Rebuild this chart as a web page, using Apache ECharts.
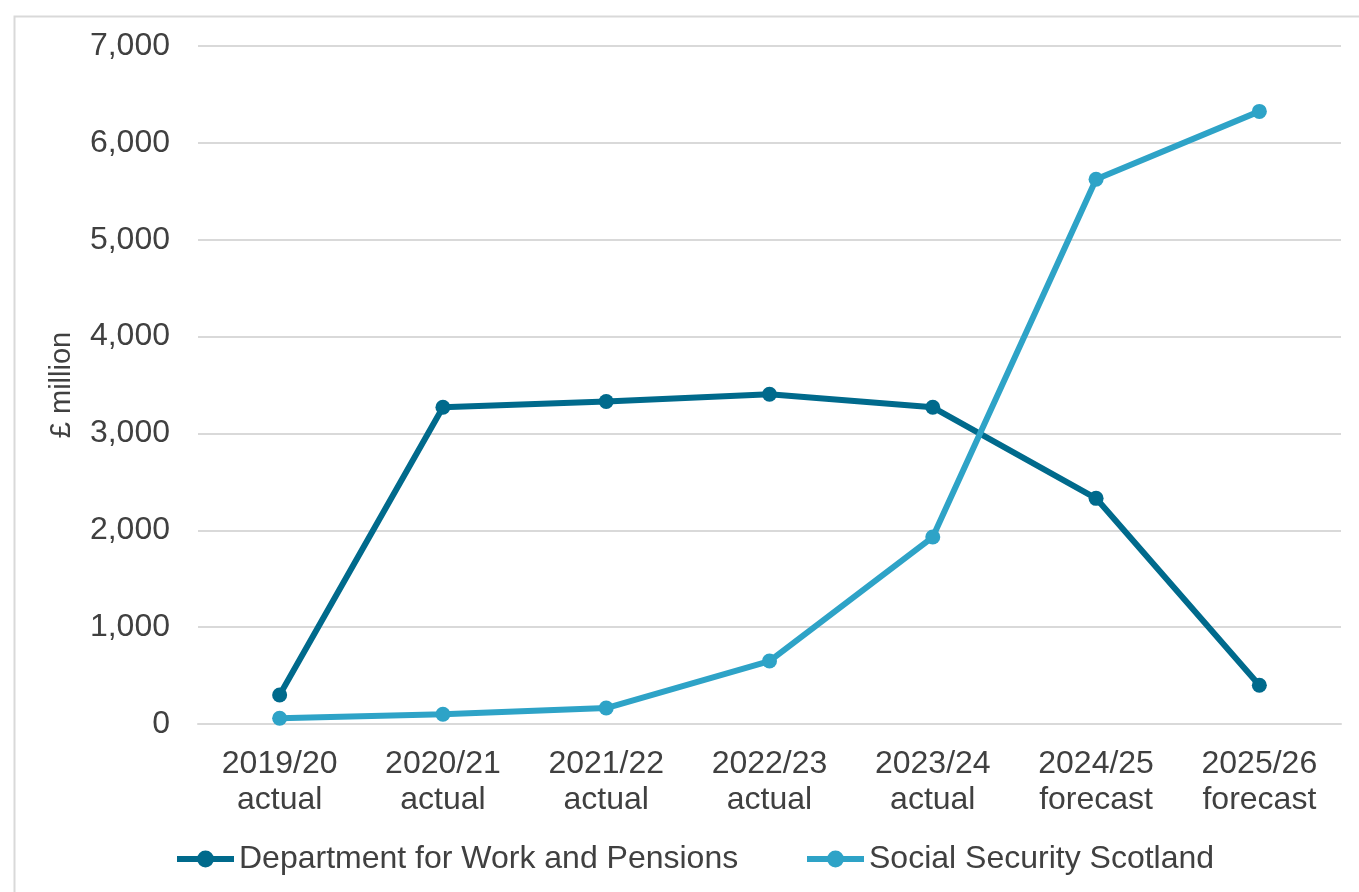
<!DOCTYPE html>
<html>
<head>
<meta charset="utf-8">
<script src="https://cdn.jsdelivr.net/npm/echarts@6/dist/echarts.min.js"></script>
<style>
html,body{margin:0;padding:0;background:#fff;}
#main{width:1359px;height:892px;}
</style>
</head>
<body>
<div id="main"></div>
<script>
const categories = ['2019/20\nactual','2020/21\nactual','2021/22\nactual','2022/23\nactual','2023/24\nactual','2024/25\nforecast','2025/26\nforecast'];
const dwp = [300, 3270, 3330, 3405, 3270, 2330, 400];
const sss = [60, 100, 165, 650, 1930, 5625, 6325];
const seriesNames = ['Department for Work and Pensions', 'Social Security Scotland'];
const yAxisName = '£ million';

const font = 'Liberation Sans, Arial, sans-serif';
const dark = '#006a8c';
const light = '#2ea3c7';
const legendText = {fontFamily: font, fontSize: 32, color: '#404040'};
const chart = echarts.init(document.getElementById('main'));
chart.setOption({
  animation: false,
  backgroundColor: '#fff',
  graphic: [{
    type: 'rect', left: 12, top: 14,
    shape: {width: 1400, height: 900},
    style: {fill: 'none', stroke: '#d9d9d9', lineWidth: 2}
  }],
  grid: {left: 198, right: 18, top: 46, bottom: 168},
  legend: [{
    left: 169, top: 838,
    itemWidth: 57, itemHeight: 21, itemGap: 5,
    lineStyle: {width: 6},
    textStyle: legendText,
    data: [seriesNames[0]]
  }, {
    left: 799, top: 838,
    itemWidth: 57, itemHeight: 21, itemGap: 5,
    lineStyle: {width: 6},
    textStyle: legendText,
    data: [seriesNames[1]]
  }],
  xAxis: {
    type: 'category',
    data: categories,
    boundaryGap: true,
    axisLine: {show: true, lineStyle: {color: '#d9d9d9', width: 2}},
    axisTick: {show: false},
    axisLabel: {fontFamily: font, fontSize: 32, color: '#404040', lineHeight: 36, margin: 22}
  },
  yAxis: {
    type: 'value',
    min: 0, max: 7000, interval: 1000,
    name: yAxisName,
    nameLocation: 'middle',
    nameGap: 122,
    nameTextStyle: {fontFamily: font, fontSize: 29, color: '#404040'},
    axisLine: {show: false},
    axisTick: {show: false},
    splitLine: {lineStyle: {color: '#d9d9d9', width: 2}},
    axisLabel: {
      fontFamily: font, fontSize: 32, color: '#404040', margin: 28,
      formatter: v => v.toLocaleString('en-GB')
    }
  },
  series: [
    {
      name: seriesNames[0], type: 'line', data: dwp,
      symbol: 'circle', symbolSize: 15,
      lineStyle: {color: dark, width: 6},
      itemStyle: {color: dark}
    },
    {
      name: seriesNames[1], type: 'line', data: sss,
      symbol: 'circle', symbolSize: 15,
      lineStyle: {color: light, width: 6},
      itemStyle: {color: light}
    }
  ]
});
</script>
</body>
</html>
